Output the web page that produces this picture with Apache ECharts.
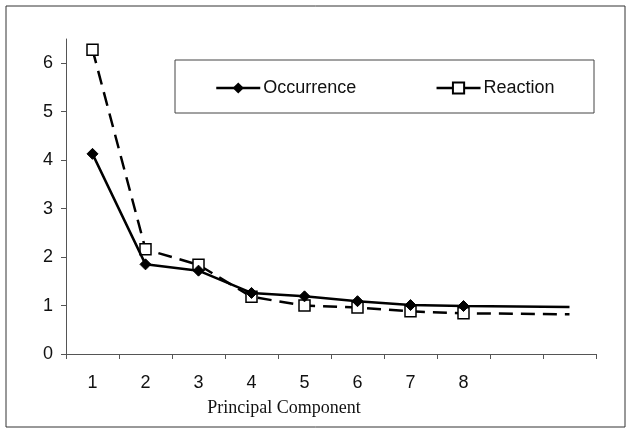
<!DOCTYPE html>
<html>
<head>
<meta charset="utf-8">
<script src="https://cdn.jsdelivr.net/npm/echarts@6/dist/echarts.min.js"></script>
<style>html,body{margin:0;padding:0;background:#fff}#c{width:632px;height:432px}</style>
</head>
<body>
<div id="c"></div>
<script>
var categories = ['1','2','3','4','5','6','7','8','9','10'];
var tickLabels = ['1','2','3','4','5','6','7','8','',''];
var occurrence = [4.13, 1.85, 1.72, 1.26, 1.19, 1.09, 1.01, 0.99, 0.98, 0.97];
var reaction = [6.28, 2.16, 1.84, 1.18, 1.00, 0.96, 0.88, 0.84, 0.83, 0.82];
var markedPoints = 8;
var yTicks = [0,1,2,3,4,5,6];

function withMarkers(arr){
  return arr.map(function(v,i){ return i < markedPoints ? v : {value:v, symbol:'none'}; });
}

var chart = echarts.init(document.getElementById('c'), null, {renderer:'canvas'});
var sans = 'Liberation Sans, Arial, sans-serif';
chart.setOption({
  animation:false,
  backgroundColor:'#fff',
  grid:{left:66,right:36,top:39,bottom:78},
  graphic:[
    {type:'rect', x:6, y:6, shape:{width:619,height:421}, style:{fill:'none', stroke:'#333', lineWidth:1}, z:-1},
    {type:'rect', x:175, y:60, shape:{width:419,height:53}, style:{fill:'#fff', stroke:'#444', lineWidth:1}, z:1},
    {type:'text', x:284, y:408, style:{text:'Principal Component', font:'18px "Liberation Serif", "Times New Roman", serif', fill:'#111', align:'center', verticalAlign:'middle'}, z:5}
  ],
  legend:{
    left:215, top:79, itemWidth:44, itemHeight:14, itemGap:79, padding:0,
    textStyle:{fontFamily:sans, fontSize:18, color:'#111', padding:[0,0,0,-2]},
    lineStyle:{type:'solid', width:2.5, color:'#000'},
    z:10,
    data:['Occurrence','Reaction']
  },
  xAxis:{
    type:'category', data:categories, boundaryGap:true,
    axisLine:{lineStyle:{color:'#555', width:1}},
    axisTick:{show:true, length:5, lineStyle:{color:'#555'}},
    axisLabel:{margin:20, fontFamily:sans, fontSize:18, color:'#111',
      formatter:function(v,i){ return tickLabels[i]; }},
    splitLine:{show:false}
  },
  yAxis:{
    type:'value', min:0, max:6.5, interval:1,
    axisLine:{show:true, lineStyle:{color:'#555', width:1}},
    axisTick:{show:true, length:5, lineStyle:{color:'#555'}, customValues:yTicks},
    axisLabel:{margin:13, fontFamily:sans, fontSize:18, color:'#111', customValues:yTicks},
    splitLine:{show:false}
  },
  series:[
    {name:'Occurrence', type:'line', data:withMarkers(occurrence), symbol:'diamond', symbolSize:11,
      lineStyle:{color:'#000', width:2.5}, itemStyle:{color:'#000', borderColor:'#000'}, z:3},
    {name:'Reaction', type:'line', data:withMarkers(reaction), symbol:'rect', symbolSize:11,
      lineStyle:{color:'#000', width:2.5, type:[14,8]}, itemStyle:{color:'#fff', borderColor:'#000', borderWidth:1.5}, z:2}
  ]
});
</script>
</body>
</html>
